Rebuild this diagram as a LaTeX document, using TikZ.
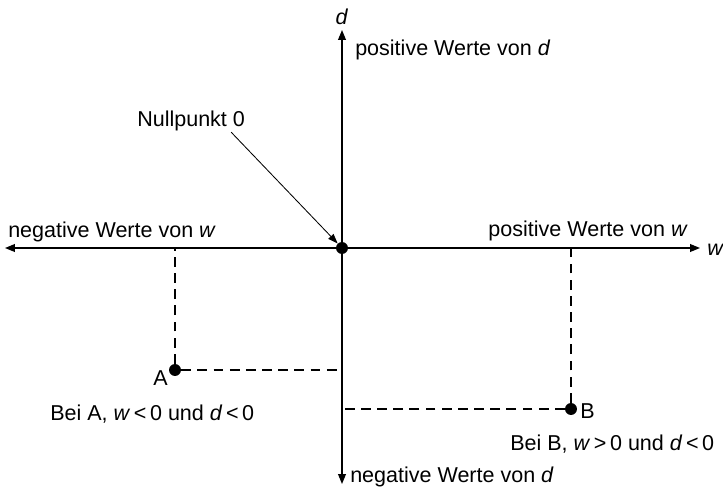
\documentclass[tikz,border=0pt]{standalone}
\usepackage{fontspec}
\setmainfont{Liberation Sans}
\usetikzlibrary{positioning, arrows.meta, calc}

\begin{document}
\begin{tikzpicture}[x=0.025cm, y=-0.025cm,
  axis/.style={line width=0.9pt, -{Triangle[length=7pt, width=5.5pt]}},
  ptr/.style={line width=0.6pt, -{Triangle[length=7pt, width=5pt]}},
  guide/.style={line width=0.75pt, dash pattern=on 7pt off 4.5pt},
  dot/.style={circle, fill, inner sep=0pt, minimum size=8.5pt},
  lbl/.style={font=\fontsize{15.3}{18}\selectfont, inner sep=0pt},
]
\useasboundingbox (0,0) rectangle (723,487);

% axes
\coordinate (O)  at (342,248);
\coordinate (wL) at (5,248);
\coordinate (wR) at (700,248);
\coordinate (dT) at (342,30);
\coordinate (dB) at (342,484);

% points
\node[dot] (ptA) at (175,370) {};
\node[dot] (ptB) at (571,409) {};

\draw[guide] (ptA) -- (ptA |- O);
\draw[guide] (ptA) -- (O |- ptA);
\draw[guide] (ptB) -- (ptB |- O);
\draw[guide] (ptB) -- (O |- ptB);

\draw[axis] (O) -- (wL);
\draw[axis] (O) -- (wR);
\draw[axis] (O) -- (dT);
\draw[axis] (O) -- (dB);

\node[dot] (orig) at (O) {};

% labels
\node[lbl, anchor=base] (lblD) at (342,24) {\textit{d}};
\node[lbl, anchor=base west] (lblW) at (707,255) {\textit{w}};
\node[lbl, anchor=base west] (posD) at (355,55) {positive Werte von \textit{d}};
\node[lbl, anchor=base west] (negD) at (350,482) {negative Werte von \textit{d}};
\node[lbl, anchor=base west] (negW) at (8,237) {negative Werte von \textit{w}};
\node[lbl, anchor=base east] (posW) at (688,236) {positive Werte von \textit{w}};
\node[lbl, anchor=base west] (null) at (137,126) {Nullpunkt 0};
\draw[ptr] ([xshift=-10pt, yshift=-1pt]null.south east) -- (orig);

\node[lbl, anchor=base east] (lblA) at (168,385) {A};
\node[lbl, anchor=base west] (lblB) at (580,418) {B};
\node[lbl, anchor=base west] (txtA) at (50,420)
  {Bei A, \textit{w}\,{<}\,0 und \textit{d}\,{<}\,0};
\node[lbl, anchor=base west] (txtB) at (510,450)
  {Bei B, \textit{w}\,{>}\,0 und \textit{d}\,{<}\,0};
\end{tikzpicture}
\end{document}
